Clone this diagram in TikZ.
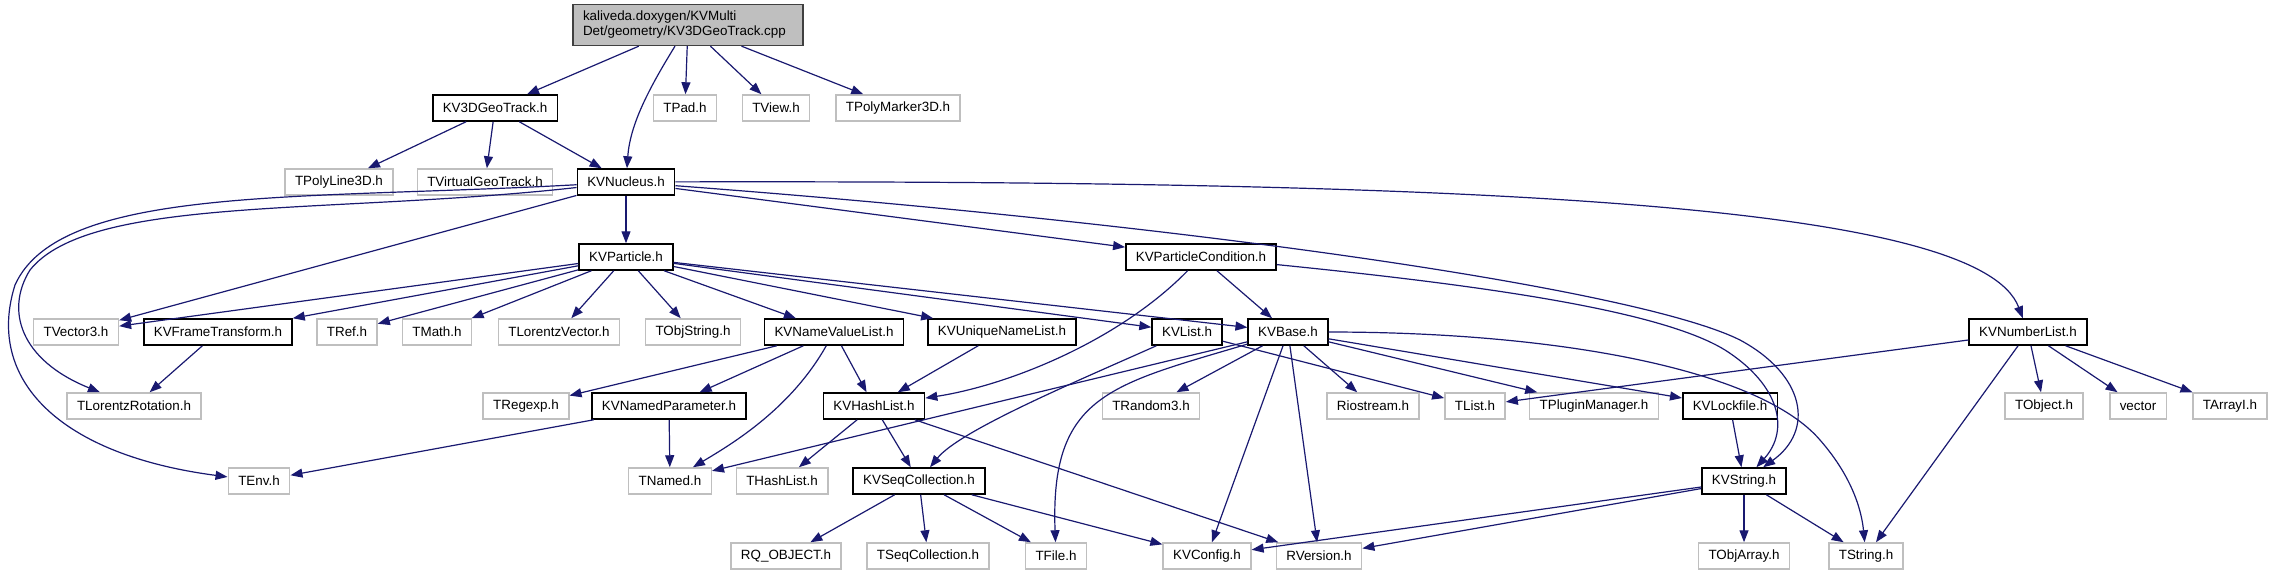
\documentclass[tikz,border=0pt]{standalone}
\usepackage{fontspec}
\setmainfont{Liberation Sans}
\usetikzlibrary{arrows.meta}
\definecolor{edgeblue}{HTML}{191970}
\definecolor{extgray}{HTML}{BFBFBF}
\definecolor{rootfill}{HTML}{BFBFBF}
\definecolor{rootline}{HTML}{404040}

\begin{document}
\begin{tikzpicture}[
  x=0.5pt, y=-0.5pt,                          % 1 unit = 1 px of the graph
  font=\fontsize{6.7}{7.5}\selectfont,
  kvhdr/.style={rectangle, draw=black, line width=0.75pt, fill=white,
                inner xsep=5pt, inner ysep=0pt, minimum height=13pt},
  exthdr/.style={kvhdr, draw=extgray},
  srcfile/.style={rectangle, draw=rootline, line width=0.75pt, fill=rootfill,
                  align=left, text width=105pt, inner xsep=5pt, minimum height=20pt},
  incl/.style={-{Triangle[length=6pt,width=4.5pt]}, draw=edgeblue, line width=0.6pt}
]
  \useasboundingbox (0,0) rectangle (2274,575);

  % --- source file and first level ---
  \node[srcfile] (root) at (688,25) {kaliveda.doxygen/KVMulti\\Det/geometry/KV3DGeoTrack.cpp};
  \node[kvhdr]  (geotrack)    at (495,108) {KV3DGeoTrack.h};
  \node[exthdr] (tpad)        at (685,108) {TPad.h};
  \node[exthdr] (tview)       at (776,108) {TView.h};
  \node[exthdr] (tpolymarker) at (898,108) {TPolyMarker3D.h};

  \node[exthdr] (tpolyline) at (339,182) {TPolyLine3D.h};
  \node[exthdr] (tvirtual)  at (485,182) {TVirtualGeoTrack.h};
  \node[kvhdr]  (nucleus)   at (626,182) {KVNucleus.h};

  \node[kvhdr] (particle) at (626,257)  {KVParticle.h};
  \node[kvhdr] (partcond) at (1201,257) {KVParticleCondition.h};

  % --- row of KVParticle includes ---
  \node[exthdr] (tvector)  at (76,332)   {TVector3.h};
  \node[kvhdr]  (frametr)  at (218,332)  {KVFrameTransform.h};
  \node[exthdr] (tref)     at (347,332)  {TRef.h};
  \node[exthdr] (tmath)    at (437,332)  {TMath.h};
  \node[exthdr] (tlorvec)  at (559,332)  {TLorentzVector.h};
  \node[exthdr] (tobjstr)  at (693,332)  {TObjString.h};
  \node[kvhdr]  (namevl)   at (834,332)  {KVNameValueList.h};
  \node[kvhdr]  (uniquenl) at (1002,332) {KVUniqueNameList.h};
  \node[kvhdr]  (kvlist)   at (1187,332) {KVList.h};
  \node[kvhdr]  (kvbase)   at (1288,332) {KVBase.h};
  \node[kvhdr]  (numlist)  at (2028,332) {KVNumberList.h};

  \node[exthdr] (lorrot)    at (134,406)  {TLorentzRotation.h};
  \node[exthdr] (tregexp)   at (526,406)  {TRegexp.h};
  \node[kvhdr]  (namedpar)  at (669,406)  {KVNamedParameter.h};
  \node[kvhdr]  (hashlist)  at (874,406)  {KVHashList.h};
  \node[exthdr] (trandom)   at (1151,406) {TRandom3.h};
  \node[exthdr] (riostream) at (1373,406) {Riostream.h};
  \node[exthdr] (tlist)     at (1475,406) {TList.h};
  \node[exthdr] (tplugin)   at (1594,406) {TPluginManager.h};
  \node[kvhdr]  (lockfile)  at (1730,406) {KVLockfile.h};
  \node[exthdr] (tobject)   at (2044,406) {TObject.h};
  \node[exthdr] (vector)    at (2138,406) {vector};
  \node[exthdr] (tarrayi)   at (2230,406) {TArrayI.h};

  \node[exthdr] (tenv)      at (259,481)  {TEnv.h};
  \node[exthdr] (tnamed)    at (670,481)  {TNamed.h};
  \node[exthdr] (thashlist) at (782,481)  {THashList.h};
  \node[kvhdr]  (seqcoll)   at (919,481)  {KVSeqCollection.h};
  \node[kvhdr]  (kvstring)  at (1744,481) {KVString.h};

  \node[exthdr] (rqobject)  at (786,556)  {RQ\_OBJECT.h};
  \node[exthdr] (tseqcoll)  at (928,556)  {TSeqCollection.h};
  \node[exthdr] (tfile)     at (1056,556) {TFile.h};
  \node[exthdr] (kvconfig)  at (1207,556) {KVConfig.h};
  \node[exthdr] (rversion)  at (1319,556) {RVersion.h};
  \node[exthdr] (tobjarray) at (1744,556) {TObjArray.h};
  \node[exthdr] (tstring)   at (1866,556) {TString.h};

  % --- includes ---
  \draw[incl] (root) -- (geotrack);
  \draw[incl] (root) .. controls (648,90) and (630,125) .. (nucleus);
  \draw[incl] (root) -- (tpad);
  \draw[incl] (root) -- (tview);
  \draw[incl] (root) -- (tpolymarker);

  \draw[incl] (geotrack) -- (tpolyline);
  \draw[incl] (geotrack) -- (tvirtual);
  \draw[incl] (geotrack) -- (nucleus);

  \draw[incl] (nucleus) -- (particle);
  \draw[incl] (nucleus) -- (tvector);
  \draw[incl] (nucleus) -- (partcond);
  \draw[incl] (nucleus) .. controls (330,215) and (90,195) .. (30,270)
                        .. controls (5,310) and (20,360) .. (lorrot);
  \draw[incl] (nucleus) .. controls (300,200) and (60,185) .. (15,285)
                        .. controls (-15,380) and (60,455) .. (tenv);
  \draw[incl] (nucleus) .. controls (1500,180) and (1980,205) .. (numlist);
  \draw[incl] (nucleus) .. controls (1200,225) and (1640,290) .. (1740,340)
                        .. controls (1805,375) and (1815,430) .. (kvstring);

  \draw[incl] (particle) -- (tvector);
  \draw[incl] (particle) -- (frametr);
  \draw[incl] (particle) -- (tref);
  \draw[incl] (particle) -- (tmath);
  \draw[incl] (particle) -- (tlorvec);
  \draw[incl] (particle) -- (tobjstr);
  \draw[incl] (particle) -- (namevl);
  \draw[incl] (particle) -- (uniquenl);
  \draw[incl] (particle) -- (kvlist);
  \draw[incl] (particle) -- (kvbase);

  \draw[incl] (partcond) -- (kvbase);
  \draw[incl] (partcond) .. controls (1120,340) and (1010,385) .. (hashlist);
  \draw[incl] (partcond) .. controls (1480,285) and (1660,310) .. (1725,350)
                         .. controls (1780,385) and (1790,430) .. (kvstring);

  \draw[incl] (frametr) -- (lorrot);

  \draw[incl] (namevl) -- (tregexp);
  \draw[incl] (namevl) -- (namedpar);
  \draw[incl] (namevl) -- (hashlist);
  \draw[incl] (namevl) .. controls (790,410) and (730,445) .. (tnamed);
  \draw[incl] (uniquenl) -- (hashlist);

  \draw[incl] (kvlist) .. controls (1080,380) and (960,430) .. (seqcoll);
  \draw[incl] (kvlist) -- (tlist);

  \draw[incl] (kvbase) -- (tnamed);
  \draw[incl] (kvbase) .. controls (1110,385) and (1050,395) .. (tfile);
  \draw[incl] (kvbase) -- (trandom);
  \draw[incl] (kvbase) -- (kvconfig);
  \draw[incl] (kvbase) -- (rversion);
  \draw[incl] (kvbase) -- (riostream);
  \draw[incl] (kvbase) -- (tplugin);
  \draw[incl] (kvbase) -- (lockfile);
  \draw[incl] (kvbase) .. controls (1560,332) and (1760,370) .. (1820,440)
                       .. controls (1855,480) and (1862,515) .. (tstring);

  \draw[incl] (numlist) -- (tlist);
  \draw[incl] (numlist) -- (tstring);
  \draw[incl] (numlist) -- (tobject);
  \draw[incl] (numlist) -- (vector);
  \draw[incl] (numlist) -- (tarrayi);

  \draw[incl] (namedpar) -- (tenv);
  \draw[incl] (namedpar) -- (tnamed);

  \draw[incl] (hashlist) -- (thashlist);
  \draw[incl] (hashlist) -- (seqcoll);
  \draw[incl] (hashlist) -- (rversion);

  \draw[incl] (seqcoll) -- (rqobject);
  \draw[incl] (seqcoll) -- (tseqcoll);
  \draw[incl] (seqcoll) -- (tfile);
  \draw[incl] (seqcoll) -- (kvconfig);

  \draw[incl] (lockfile) -- (kvstring);

  \draw[incl] (kvstring) -- (tobjarray);
  \draw[incl] (kvstring) -- (tstring);
  \draw[incl] (kvstring) -- (kvconfig);
  \draw[incl] (kvstring) -- (rversion);

\end{tikzpicture}
\end{document}
